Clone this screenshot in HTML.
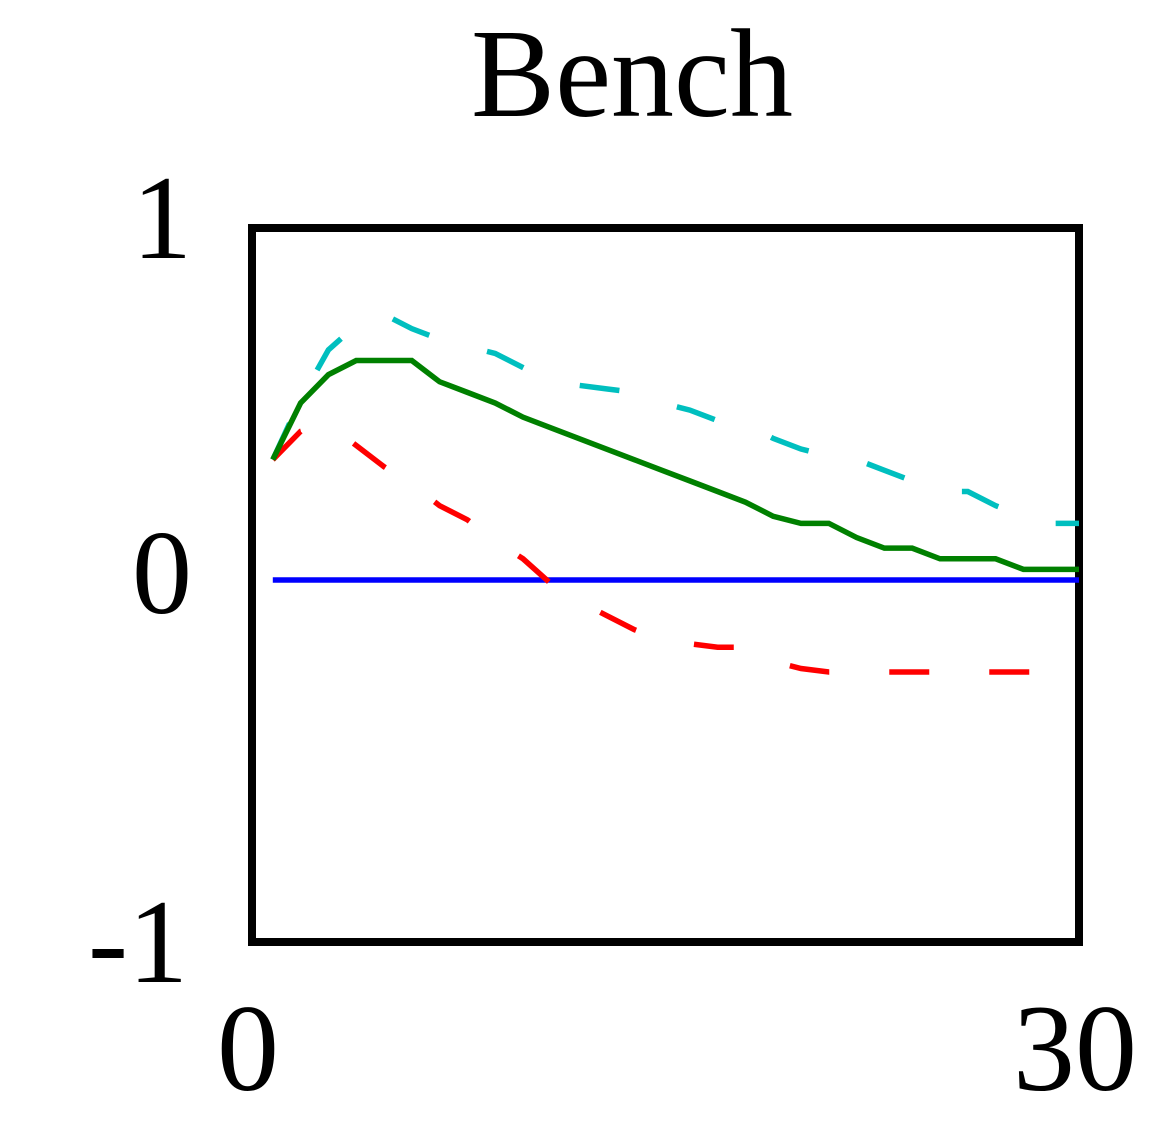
<!DOCTYPE html>
<html><head><meta charset="utf-8"><style>
html,body{margin:0;padding:0;background:#fff;}
svg{display:block;font-family:"Liberation Serif",serif;}
</style></head><body>
<svg id="chart" width="1152" height="1135">
<text x="632" y="116" font-size="126" text-anchor="middle">Bench</text>
<rect x="252" y="228" width="827" height="714" fill="none" stroke="#000" stroke-width="8"/>
<g id="marks"></g>
<text x="192" y="258" font-size="120" text-anchor="end">1</text>
<text x="192" y="613" font-size="120" text-anchor="end">0</text>
<text x="188" y="982" font-size="120" text-anchor="end">-1</text>
<text x="248" y="1090" font-size="124" text-anchor="middle">0</text>
<text x="1075" y="1090" font-size="124" text-anchor="middle">30</text>
</svg>
<script>
const periods = Array.from({length:30},(_, i)=>i+1);
const zeroLine = Array(30).fill(0);
const meanResp = [0.34,0.50,0.58,0.62,0.62,0.62,0.56,0.53,0.50,0.46,0.43,0.40,0.37,0.34,0.31,0.28,0.25,0.22,0.18,0.16,0.16,0.12,0.09,0.09,0.06,0.06,0.06,0.03,0.03,0.03];
const upperBand = [0.34,0.51,0.65,0.72,0.75,0.71,0.68,0.66,0.64,0.60,0.56,0.55,0.54,0.53,0.50,0.48,0.45,0.44,0.40,0.37,0.35,0.34,0.31,0.28,0.25,0.25,0.21,0.18,0.16,0.16];
const lowerBand = [0.34,0.42,0.44,0.38,0.32,0.27,0.21,0.17,0.11,0.06,-0.01,-0.06,-0.10,-0.14,-0.17,-0.18,-0.19,-0.19,-0.23,-0.25,-0.26,-0.26,-0.26,-0.26,-0.26,-0.26,-0.26,-0.26,-0.26,-0.26];
function xs(v){return 245 + (v/30)*(1079-245);}
function ys(v){return 580 - v*354;}
const g=document.getElementById('marks');
function line(vals,color,dash,name){
  const p=document.createElementNS('http://www.w3.org/2000/svg','polyline');
  p.setAttribute('points',vals.map((v,i)=>xs(periods[i])+','+ys(v)).join(' '));
  p.setAttribute('fill','none');p.setAttribute('stroke',color);p.setAttribute('stroke-width','5.5');
  if(dash)p.setAttribute('stroke-dasharray',dash);
  
  
  g.appendChild(p);
}
line(zeroLine,'#0000ff',null,'zero-line');
line(upperBand,'#00bfbf','40 60','upper-band-line');
line(lowerBand,'#ff0000','40 60','lower-band-line');
line(meanResp,'#008000',null,'response-line');
</script>
</body></html>
